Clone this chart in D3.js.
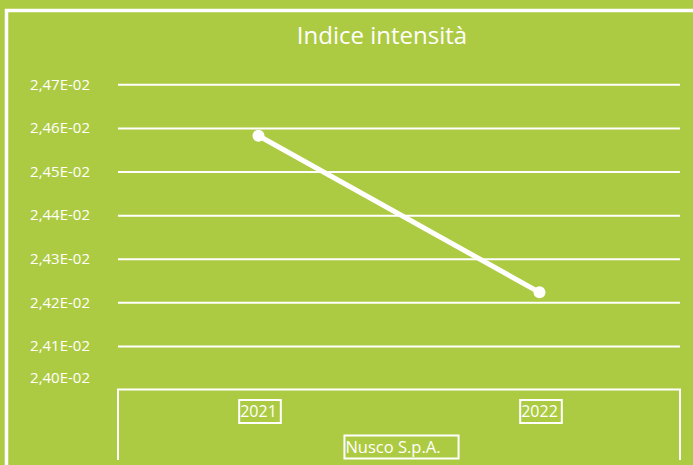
<!DOCTYPE html>
<html>
<head>
<meta charset="utf-8">
<script src="https://cdn.jsdelivr.net/npm/d3@7"></script>
<style>
  body { margin: 0; background: #adcb42; }
  svg { display: block; }
  text { font-family: "Open Sans", sans-serif; fill: #fff; }
</style>
</head>
<body>
<div id="chart"></div>
<script>
// chart data
var years = ["2021", "2022"];
var intensity = [0.024582, 0.024223];
var yTicks = [0.0240, 0.0241, 0.0242, 0.0243, 0.0244, 0.0245, 0.0246, 0.0247];
var groupLabel = "Nusco S.p.A.";
var chartTitle = "Indice intensità";

var svgWidth = 693;
var svgHeight = 465;
var green = "#adcb42";

var svg = d3.select("#chart")
  .append("svg")
  .attr("width", svgWidth)
  .attr("height", svgHeight);

svg.append("rect")
  .attr("width", svgWidth)
  .attr("height", svgHeight)
  .attr("fill", green);

// outer white frame (runs off the right and bottom edges)
svg.append("rect")
  .attr("x", 6.5)
  .attr("y", 10.5)
  .attr("width", 720)
  .attr("height", 520)
  .attr("fill", "none")
  .attr("stroke", "#fff")
  .attr("stroke-width", 3.5);

// plot area
var plot = { left: 118, right: 680, top: 84.3, bottom: 389.6 };

var x = d3.scaleBand()
  .domain(years)
  .range([plot.left, plot.right])
  .padding(0);

var y = d3.scaleLinear()
  .domain([0.0240, 0.0247])
  .range([plot.bottom, plot.top]);

// number format like 2,47E-02
function fmt(v) {
  var parts = v.toExponential(2).split("e");
  var e = +parts[1];
  return parts[0].replace(".", ",") + "E" + (e < 0 ? "-" : "+") + String(Math.abs(e)).padStart(2, "0");
}

// title
svg.append("text")
  .attr("x", 382)
  .attr("y", 44)
  .attr("text-anchor", "middle")
  .style("font-size", "24px")
  .text(chartTitle);

// gridlines (no line at the baseline, the axis box sits there)
var yAxis = d3.axisLeft(y)
  .tickValues(yTicks)
  .tickSize(-(plot.right - plot.left))
  .tickPadding(28)
  .tickFormat(fmt);

var yAxisG = svg.append("g")
  .attr("transform", `translate(${plot.left}, 0)`)
  .call(yAxis);

yAxisG.select(".domain").remove();
yAxisG.selectAll(".tick line")
  .attr("stroke", "#fff")
  .attr("stroke-width", 2)
  .attr("display", d => d === 0.0240 ? "none" : null);
yAxisG.selectAll(".tick text")
  .attr("fill", "#fff")
  .style("font-family", "'Open Sans', sans-serif")
  .style("font-size", "15px")
  .attr("dy", d => d === 0.0240 ? "-0.45em" : "0.32em");

// category axis box
var boxBottom = 460;
svg.append("path")
  .attr("d", `M${plot.left},${boxBottom} V${plot.bottom} H${plot.right} V${boxBottom}`)
  .attr("fill", "none")
  .attr("stroke", "#fff")
  .attr("stroke-width", 2);

// boxed category labels
function boxedLabel(cx, cy, str, size, extra) {
  var g = svg.append("g");
  var t = g.append("text")
    .attr("x", cx)
    .attr("y", cy)
    .attr("text-anchor", "middle")
    .attr("dy", "0.35em")
    .style("font-size", size + "px")
    .text(str);
  var bb = t.node().getBBox();
  g.insert("rect", "text")
    .attr("x", bb.x - 1)
    .attr("y", cy - 11.5)
    .attr("width", bb.width + 5 + extra)
    .attr("height", 23)
    .attr("fill", "none")
    .attr("stroke", "#fff")
    .attr("stroke-width", 2);
}

years.forEach(function(d) {
  boxedLabel(x(d) + x.bandwidth() / 2, 411.5, d, 16, 0);
});
boxedLabel(393, 447, groupLabel, 16.5, 14);

// series line
var line = d3.line()
  .x((d, i) => x(years[i]) + x.bandwidth() / 2)
  .y(d => y(d));

svg.append("path")
  .datum(intensity)
  .attr("d", line)
  .attr("fill", "none")
  .attr("stroke", "#fff")
  .attr("stroke-width", 5)
  .attr("stroke-linecap", "round");

svg.selectAll(".dot")
  .data(intensity)
  .enter()
  .append("circle")
  .attr("class", "dot")
  .attr("cx", (d, i) => x(years[i]) + x.bandwidth() / 2)
  .attr("cy", d => y(d))
  .attr("r", 6)
  .attr("fill", "#fff");
</script>
</body>
</html>
